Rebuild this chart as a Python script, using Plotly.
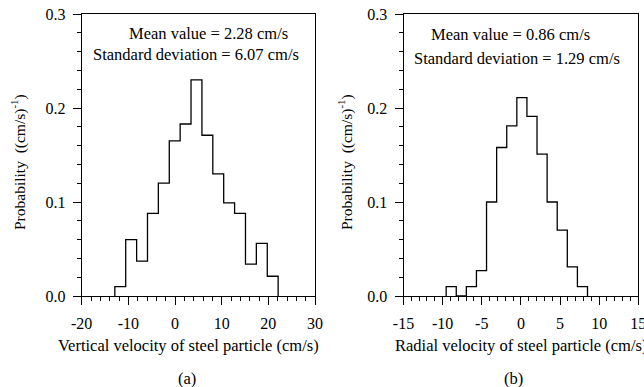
import plotly.graph_objects as go

# ---- data ----
vert_edges = [-12.9, -10.57, -8.23, -5.9, -3.57, -1.23, 1.1, 3.43, 5.77, 8.1, 10.43, 12.77, 15.1, 17.43, 19.77, 22.1]
vert_prob = [0.010, 0.060, 0.037, 0.088, 0.120, 0.165, 0.183, 0.230, 0.171, 0.130, 0.099, 0.088, 0.034, 0.056, 0.021]

rad_edges = [-9.55, -8.26, -6.97, -5.68, -4.39, -3.10, -1.81, -0.52, 0.77, 2.06, 3.35, 4.64, 5.93, 7.22, 8.51]
rad_prob = [0.010, 0.0, 0.010, 0.027, 0.100, 0.158, 0.181, 0.211, 0.191, 0.151, 0.100, 0.070, 0.031, 0.010]

vert_ticks = [-20, -10, 0, 10, 20, 30]
vert_ticktext = ["-20", "-10", "0", "10", "20", "30"]
rad_ticks = [-15, -10, -5, 0, 5, 10, 15]
rad_ticktext = ["-15", "-10", "-5", "0", "5", "10", "15"]
prob_ticks = [0.0, 0.1, 0.2, 0.3]
prob_ticktext = ["0.0", "0.1", "0.2", "0.3"]

W, H = 644, 387
FONT = "Liberation Serif"


def step_xy(edges, vals):
    xs = [edges[0]]
    ys = [0.0]
    for e, v in zip(edges[:-1], vals):
        xs.append(e)
        ys.append(v)
    xs.append(edges[-1])
    ys.append(vals[-1])
    xs.append(edges[-1])
    ys.append(0.0)
    return xs, ys


fig = go.Figure()
x1, y1 = step_xy(vert_edges, vert_prob)
x2, y2 = step_xy(rad_edges, rad_prob)
fig.add_trace(go.Scatter(x=x1, y=y1, mode="lines", line=dict(color="black", width=1.3, shape="hv"),
                         xaxis="x", yaxis="y", showlegend=False, hoverinfo="skip"))
fig.add_trace(go.Scatter(x=x2, y=y2, mode="lines", line=dict(color="black", width=1.3, shape="hv"),
                         xaxis="x2", yaxis="y2", showlegend=False, hoverinfo="skip"))

def px_x(p):
    return p / W

def px_y(p):
    return 1 - p / H

axis_common = dict(showline=True, linecolor="black", linewidth=1, mirror=True, showgrid=False,
                   zeroline=False, ticks="outside", ticklen=8, tickcolor="black", tickwidth=1,
                   automargin=False, ticklabeloverflow="allow",
                   tickfont=dict(family=FONT, size=16, color="black"))

yd = [px_y(296), px_y(14)]
fig.update_layout(
    width=W, height=H, margin=dict(l=0, r=0, t=0, b=0, autoexpand=False),
    paper_bgcolor="white", plot_bgcolor="white",
    font=dict(family=FONT, size=16, color="black"),
    xaxis=dict(domain=[px_x(81.7), px_x(315)], range=[-20, 30], tickvals=vert_ticks, ticktext=vert_ticktext,
               ticklabelstandoff=5,
               minor=dict(dtick=2, ticklen=4, ticks="outside", tickcolor="black"), anchor="y", **axis_common),
    yaxis=dict(domain=yd, range=[0, 0.3], tickvals=prob_ticks, ticktext=prob_ticktext, ticklabelstandoff=4,
               minor=dict(dtick=0.02, ticklen=4, ticks="outside", tickcolor="black"), anchor="x", **axis_common),
    xaxis2=dict(domain=[px_x(403.5), px_x(638.3)], range=[-15, 15], tickvals=rad_ticks, ticktext=rad_ticktext,
                ticklabelstandoff=5,
                minor=dict(dtick=1, ticklen=4, ticks="outside", tickcolor="black"), anchor="y2", **axis_common),
    yaxis2=dict(domain=yd, range=[0, 0.3], tickvals=prob_ticks, ticktext=prob_ticktext, ticklabelstandoff=4,
                minor=dict(dtick=0.02, ticklen=4, ticks="outside", tickcolor="black"), anchor="x2", **axis_common),
)

def ann(text, x, y, size=16.5, angle=0, xanchor="center"):
    fig.add_annotation(text=text, x=px_x(x), y=px_y(y), xref="paper", yref="paper",
                       showarrow=False, textangle=angle, xanchor=xanchor, yanchor="middle",
                       font=dict(family=FONT, size=size, color="black"))

ann("Probability  ((cm/s)<sup>-1</sup>)", 18, 162, size=15.5, angle=-90)
ann("Probability  ((cm/s)<sup>-1</sup>)", 345, 162, size=15.5, angle=-90)
ann("Vertical velocity of steel particle (cm/s)", 188, 345)
ann("Radial velocity of steel particle (cm/s)", 521, 345)
ann("(a)", 187, 378)
ann("(b)", 513, 378)
ann("Mean value = 2.28 cm/s", 209, 33)
ann("Standard deviation = 6.07 cm/s", 196, 54)
ann("Mean value = 0.86 cm/s", 510, 35)
ann("Standard deviation = 1.29 cm/s", 517, 58)

fig.write_html("out.html")
